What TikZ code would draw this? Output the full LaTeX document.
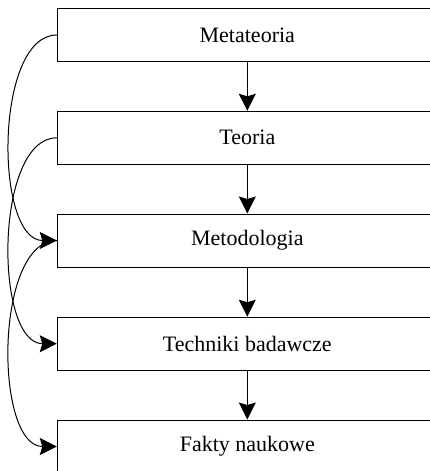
\documentclass[tikz,border=0pt]{standalone}
\usepackage{fontspec}
\setmainfont{Liberation Serif}
\usetikzlibrary{arrows.meta}
\begin{document}
\begin{tikzpicture}[x=1pt,y=-1pt,
  boxnode/.style={draw=black,line width=1pt,minimum width=380pt,minimum height=53pt,inner sep=0pt,font=\fontsize{22}{26}\selectfont,fill=white},
  conn/.style={line width=1pt,-{Stealth[length=17pt,width=17pt,inset=2.5pt]}},
  sideconn/.style={conn,out=180,in=180,looseness=0.78}]
\useasboundingbox (0,0) rectangle (429,471);
\node[boxnode] (m) at (247.3,35) {Metateoria};
\node[boxnode] (t) at (247.3,137.8) {Teoria};
\node[boxnode] (me) at (247.3,240.5) {Metodologia};
\node[boxnode] (tb) at (247.3,343.7) {Techniki badawcze};
\node[boxnode] (f) at (247.3,446.5) {Fakty naukowe};
\draw[conn] (m) -- (t);
\draw[conn] (t) -- (me);
\draw[conn] (me) -- (tb);
\draw[conn] (tb) -- (f);
\draw[sideconn] (m.west) to (me.west);
\draw[sideconn] (t.west) to (tb.west);
\draw[sideconn] (me.west) to (f.west);
\end{tikzpicture}
\end{document}
